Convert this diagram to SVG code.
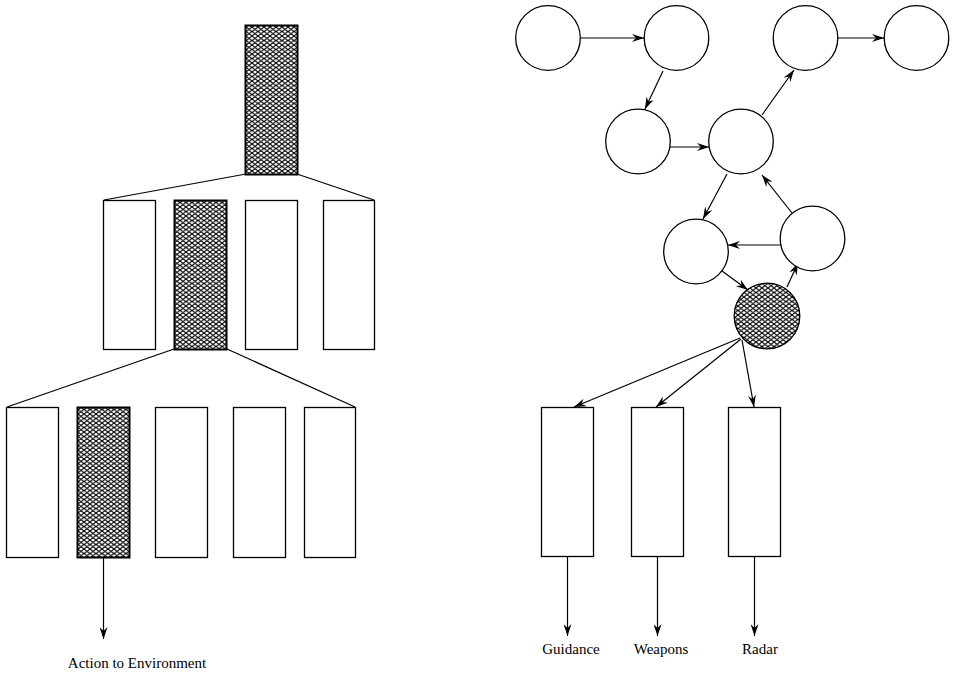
<svg xmlns="http://www.w3.org/2000/svg" width="957" height="674" viewBox="0 0 957 674">
<style>
.box{fill:#fff;stroke:#000;stroke-width:1.3}
.hbox{fill:url(#mesh);stroke:#000;stroke-width:2}
.node{fill:#fff;stroke:#000;stroke-width:1.3}
.ln{stroke:#000;stroke-width:1.2;fill:none}
.ar{stroke:#000;stroke-width:1.2;fill:none;marker-end:url(#ah)}
.lbl{font-family:"Liberation Serif","Times New Roman",serif;font-size:15px;fill:#000;text-anchor:middle}
</style>
<defs>
<pattern id="mesh" width="6" height="4.5" patternUnits="userSpaceOnUse">
<rect width="6" height="4.5" fill="#fff"/>
<path d="M0,0 L6,4.5 M0,4.5 L6,0 M-1,3.75 L1,5.25 M5,-0.75 L7,0.75 M-1,0.75 L1,-0.75 M5,5.25 L7,3.75" stroke="#000" stroke-width="1.1"/>
</pattern>
<marker id="ah" viewBox="0 0 12 8" refX="12" refY="4" markerWidth="12" markerHeight="8" markerUnits="userSpaceOnUse" orient="auto">
<path d="M0,0 L12,4 L0,8 L4,4 z" fill="#000"/>
</marker>
</defs>
<rect width="957" height="674" fill="#fff"/>
<g id="connectors">
<line class="ln" x1="246" y1="174" x2="104" y2="200"/>
<line class="ln" x1="297" y1="174" x2="374" y2="200"/>
<line class="ln" x1="174" y1="349" x2="7" y2="407"/>
<line class="ln" x1="227" y1="349" x2="355" y2="407"/>
<line class="ar" x1="103.5" y1="557" x2="103.5" y2="639"/>
<line class="ar" x1="580.5" y1="38" x2="644" y2="38"/>
<line class="ar" x1="663" y1="71" x2="645" y2="109"/>
<line class="ar" x1="670" y1="147" x2="709" y2="147"/>
<line class="ar" x1="762" y1="115" x2="794" y2="70"/>
<line class="ar" x1="838" y1="38" x2="884" y2="38"/>
<line class="ar" x1="727" y1="174" x2="703" y2="219"/>
<line class="ar" x1="792" y1="213" x2="762" y2="175"/>
<line class="ar" x1="781" y1="245" x2="728" y2="245"/>
<line class="ar" x1="722" y1="271" x2="748" y2="290"/>
<line class="ar" x1="787" y1="287" x2="798" y2="263"/>
<line class="ar" x1="740" y1="338" x2="574" y2="407"/>
<line class="ar" x1="741" y1="339" x2="656" y2="407"/>
<line class="ar" x1="742" y1="340" x2="754" y2="407"/>
<line class="ar" x1="567.5" y1="557" x2="567.5" y2="636"/>
<line class="ar" x1="657.5" y1="557" x2="657.5" y2="636"/>
<line class="ar" x1="754.5" y1="557" x2="754.5" y2="636"/>
</g>
<g id="top"><rect class="hbox" x="245.5" y="25.5" width="52" height="149"/></g>
<g id="r2a"><rect class="box" x="103.5" y="200.5" width="52" height="149"/></g>
<g id="r2b"><rect class="hbox" x="174.5" y="200.5" width="52" height="149"/></g>
<g id="r2c"><rect class="box" x="245.5" y="200.5" width="52" height="149"/></g>
<g id="r2d"><rect class="box" x="323.5" y="200.5" width="51" height="149"/></g>
<g id="r3a"><rect class="box" x="6.5" y="407.5" width="52" height="150"/></g>
<g id="r3b"><rect class="hbox" x="77.5" y="407.5" width="52" height="150"/></g>
<g id="r3c"><rect class="box" x="155.5" y="407.5" width="52" height="150"/></g>
<g id="r3d"><rect class="box" x="233.5" y="407.5" width="52" height="150"/></g>
<g id="r3e"><rect class="box" x="304.5" y="407.5" width="51" height="150"/></g>
<g id="action"><text class="lbl" x="137" y="668">Action to Environment</text></g>
<g id="c1"><circle class="node" cx="548" cy="38" r="32.3"/></g>
<g id="c2"><circle class="node" cx="676.5" cy="38" r="32.3"/></g>
<g id="c3"><circle class="node" cx="805.5" cy="38" r="32.3"/></g>
<g id="c4"><circle class="node" cx="916.5" cy="38" r="32.3"/></g>
<g id="c5"><circle class="node" cx="638" cy="141.5" r="32.3"/></g>
<g id="c6"><circle class="node" cx="741" cy="141.5" r="32.3"/></g>
<g id="c7"><circle class="node" cx="696" cy="251.5" r="32.3"/></g>
<g id="c8"><circle class="node" cx="812.5" cy="238.5" r="32.3"/></g>
<g id="ch"><circle class="node" cx="767" cy="316" r="32.8" style="fill:url(#mesh)"/></g>
<g id="guidance"><rect class="box" x="541.5" y="407.5" width="52" height="149"/><text class="lbl" x="571" y="654">Guidance</text></g>
<g id="weapons"><rect class="box" x="631.5" y="407.5" width="52" height="149"/><text class="lbl" x="661" y="654">Weapons</text></g>
<g id="radar"><rect class="box" x="728.5" y="407.5" width="52" height="149"/><text class="lbl" x="760" y="654">Radar</text></g>
</svg>
